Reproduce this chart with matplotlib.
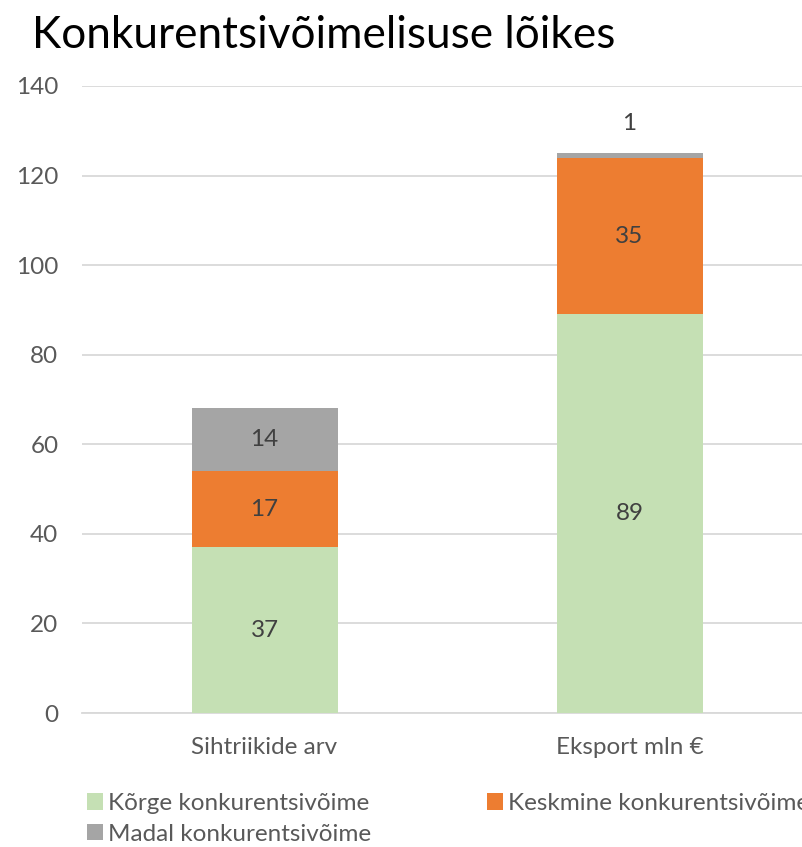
import matplotlib.pyplot as plt
import numpy as np

plt.rcParams["font.family"] = ["Lato", "DejaVu Sans"]

# Data
categories = ["Sihtriikide arv", "Eksport mln €"]
series_names = ["Kõrge konkurentsivõime", "Keskmine konkurentsivõime", "Madal konkurentsivõime"]
korge = [37, 89]
keskmine = [17, 35]
madal = [14, 1]
colors = ["#C5E0B4", "#ED7D31", "#A5A5A5"]

fig = plt.figure(figsize=(8.02, 8.47), dpi=100)
ax = fig.add_axes([82 / 802, 134 / 847, 730 / 802, 627 / 847])

x = np.arange(len(categories))
bottom = np.zeros(len(categories))
handles = []
for vals, name, col in zip([korge, keskmine, madal], series_names, colors):
    bars = ax.bar(x, vals, 0.4, bottom=bottom, color=col, label=name, zorder=3)
    handles.append(bars)
    for i, (b, v) in enumerate(zip(bars, vals)):
        if v < 5:
            # small segment: label above the bar
            ax.annotate(str(v), (b.get_x() + b.get_width() / 2, bottom[i] + v),
                        xytext=(0, 14), textcoords="offset points",
                        ha="center", va="bottom", fontsize=17.5, color="#404040")
        else:
            ax.text(b.get_x() + b.get_width() / 2, bottom[i] + v / 2, str(v),
                    ha="center", va="center", fontsize=17.5, color="#404040", zorder=4)
    bottom += np.array(vals)

ax.set_xlim(-0.5, 1.5)
ax.set_ylim(0, 140)
ax.set_yticks(range(0, 141, 20))
ax.set_xticks(x)
ax.set_xticklabels(categories)
ax.tick_params(axis="both", length=0, labelsize=17.5, colors="#595959")
ax.tick_params(axis="x", pad=17)
ax.tick_params(axis="y", pad=17)
ax.grid(axis="y", color="#D9D9D9", linewidth=1.3, zorder=0)
for s in ["top", "right", "left"]:
    ax.spines[s].set_visible(False)
ax.spines["bottom"].set_color("#D9D9D9")
ax.spines["bottom"].set_linewidth(1.3)

fig.text(32 / 802, 1 - 35 / 847, "Konkurentsivõimelisuse lõikes",
         fontsize=31.8, color="#000000", ha="left", va="center")

# row-wise order: Kõrge, Keskmine / Madal
order = [0, 2, 1]
fig.legend([handles[i] for i in order], [series_names[i] for i in order],
           loc="upper left", bbox_to_anchor=(70 / 802, 1 - 776 / 847), ncol=2,
           frameon=False, fontsize=17.5, handlelength=0.65, handleheight=0.65,
           handletextpad=0.2, columnspacing=4.8, labelcolor="#595959",
           labelspacing=0.4, borderpad=0.2)

fig.savefig("out.png", dpi=100)
